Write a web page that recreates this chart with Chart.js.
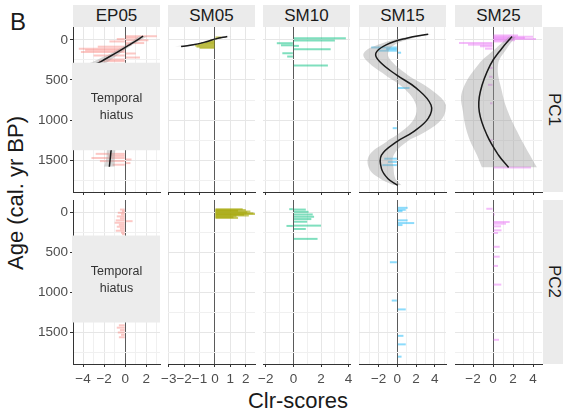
<!DOCTYPE html>
<html>
<head>
<meta charset="utf-8">
<script src="https://cdn.jsdelivr.net/npm/chart.js@4/dist/chart.umd.min.js"></script>
<style>
  body { margin: 0; width: 563px; height: 414px; overflow: hidden; position: relative; background: #fff;
         font-family: "Liberation Sans", Arial, sans-serif; }
  canvas { position: absolute; }
  .strip { position: absolute; background: #ebebeb; color: #1a1a1a; font-size: 17px; text-align: center; }
  .rstrip { position: absolute; background: #ebebeb; color: #1a1a1a; font-size: 17px;
            display: flex; align-items: center; justify-content: center; }
  .rstrip span { writing-mode: vertical-rl; }
  #tag { position: absolute; left: 10px; top: 8px; font-size: 24px; color: #1a1a1a; }
  #ytitle { position: absolute; left: 16px; top: 193px; font-size: 22px; color: #1a1a1a; white-space: nowrap;
            transform: translate(-50%, -50%) rotate(-90deg); }
  #xtitle { position: absolute; left: 298px; top: 401px; font-size: 22px; color: #1a1a1a; white-space: nowrap;
            transform: translate(-50%, -50%); }
</style>
</head>
<body>
<div id="tag">B</div>
<div id="ytitle">Age (cal. yr BP)</div>
<div id="xtitle">Clr-scores</div>

<script>
// facets
const sites = ['EP05', 'SM05', 'SM10', 'SM15', 'SM25'];
const components = ['PC1', 'PC2'];

// axis breaks
const ageTicks = [0, 500, 1000, 1500];
const ageGrid = [0, 250, 500, 750, 1000, 1250, 1500, 1750];
const clrTicks = [[-4, -2, 0, 2], [-3, -2, -1, 0, 1, 2], [-2, 0, 2, 4], [-2, 0, 2, 4], [-2, 0, 2, 4]];
const clrGrid = [[-4, -3, -2, -1, 0, 1, 2, 3], [-3, -2, -1, 0, 1, 2], [-2, -1, 0, 1, 2, 3, 4],
                 [-4, -3, -2, -1, 0, 1, 2, 3, 4, 5], [-3, -2, -1, 0, 1, 2, 3, 4]];

// temporal hiatus in EP05
const hiatusAge = [285, 1375];
const hiatusLabel = ['Temporal', 'hiatus'];

// PC1 clr-scores
const ep05Pc1Age = [-45, -25, -10, 5, 20, 40, 60, 85, 110, 130, 150, 170, 195, 220, 245, 265, 1420, 1445, 1470, 1490, 1510, 1535, 1555];
const ep05Pc1Clr = [3.0, 1.2, -0.8, 2.2, -1.5, 1.8, 0.6, -2.6, -4.4, -3.8, -4.2, 1.0, -3.0, 1.4, -1.8, -2.5, -2.8, -1.6, -3.2, 0.6, -2.4, 0.5, -1.2];
const sm05Pc1Age = [-30, -10, 10, 25, 40, 55, 70, 85, 100];
const sm05Pc1Clr = [0.4, 0.1, -0.3, -0.6, -0.9, -1.1, -1.3, -1.2, -1.0];
const sm10Pc1Age = [-20, 8, 42, 68, 75, 117, 167, 208, 320];
const sm10Pc1Clr = [3.8, 3.0, -1.2, -0.9, 0.4, 2.7, -0.8, -0.45, 2.5];
const sm15Pc1Age = [95, 115, 135, 160, 600, 1100, 1480, 1520, 1560];
const sm15Pc1Clr = [-2.8, -1.2, -2.0, 0.4, 1.3, -0.5, -1.4, -1.0, -1.6];
const sm25Pc1Age = [-55, -40, -25, -10, 5, 20, 40, 60, 80, 110, 350, 460, 560, 790, 1250, 1590];
const sm25Pc1Clr = [2.5, 4.0, 3.2, 4.3, 2.2, 1.6, -3.4, -2.5, -1.3, -0.8, -0.3, -0.4, -0.5, -0.3, -0.4, 3.8];

// PC2 clr-scores
const ep05Pc2Age = [-40, -20, 0, 20, 45, 70, 95, 105, 125, 150, 175, 200, 225, 250, 270, 1410, 1440, 1470, 1500, 1530, 1560];
const ep05Pc2Clr = [-0.5, -0.3, -0.7, -0.4, -0.8, -0.5, -0.9, 0.7, -1.0, -0.6, -0.8, -0.5, -0.9, -0.4, -0.3, -0.6, -0.8, -0.5, -0.7, -0.4, -0.6];
const sm05Pc2Age = [-45, -35, -25, -15, -5, 5, 15, 25, 35, 45, 55, 65];
const sm05Pc2Clr = [1.8, 2.0, 1.5, 2.3, 2.1, 2.5, 2.6, 1.9, 2.2, 1.4, 1.2, 1.5];
const sm10Pc2Age = [-45, -40, -12, 21, 50, 79, 112, 161, 165, 203, 327];
const sm10Pc2Clr = [-0.3, 0.9, 1.1, 1.4, 1.5, 1.3, 1.0, 2.0, -0.5, 0.9, 1.75];
const sm15Pc2Age = [-62, -37, -20, 95, 129, 154, 620, 1100, 1211, 1542, 1649, 1803];
const sm15Pc2Clr = [1.1, 0.9, 0.55, 1.1, 1.8, 0.55, -0.8, -0.6, 0.9, 0.65, 0.9, 0.45];
const sm25Pc2Age = [-50, -8, 21, 116, 137, 170, 220, 253, 426, 550, 666, 900, 1592];
const sm25Pc2Clr = [-0.67, 0.1, 0.17, 1.67, 1.3, 0.8, 0.85, 0.5, 0.67, 0.67, 0.5, 0.83, 0.6];

// smoothers (PC1): fit with confidence band
const ep05FitAge = [-45, 50, 150, 270, 400, 1300, 1390, 1480, 1580];
const ep05Fit = [1.7, 0.55, -0.7, -2.3, -3.9, -1.28, -1.35, -1.42, -1.5];
const ep05FitLo = [1.3, 0.25, -1.1, -3.0, -4.8, -1.7, -1.75, -1.8, -2.0];
const ep05FitHi = [2.1, 0.85, -0.3, -1.6, -3.0, -0.85, -0.95, -1.0, -1.0];
const sm05FitAge = [-42, -12, 20, 50, 84];
const sm05Fit = [0.8, 0.05, -0.5, -1.1, -2.2];
const sm05FitLo = [0.5, -0.1, -0.65, -1.3, -2.6];
const sm05FitHi = [1.1, 0.2, -0.35, -0.9, -1.8];
const sm15FitAge = [-71, -21, 62, 167, 271, 437, 604, 812, 979, 1146, 1271, 1437, 1604, 1729, 1812];
const sm15Fit = [3.3, 1.0, -1.2, -2.3, -1.9, -0.1, 2.05, 3.6, 3.3, 1.7, -0.1, -1.7, -1.7, -1.0, 0.05];
const sm15FitLo = [3.0, 0.4, -2.1, -3.6, -3.2, -1.3, 0.7, 2.0, 1.8, 0.4, -1.2, -3.0, -3.0, -1.8, -0.35];
const sm15FitHi = [3.6, 1.6, -0.3, -1.0, -0.6, 1.1, 3.4, 5.2, 4.8, 3.0, 1.0, -0.4, -0.4, -0.2, 0.45];
const sm25FitAge = [-42, 104, 312, 646, 896, 1187, 1437, 1590];
const sm25Fit = [1.9, 0.9, -0.27, -1.27, -1.37, -0.6, 0.56, 1.56];
const sm25FitLo = [1.6, 0.3, -1.5, -3.1, -3.0, -2.5, -1.6, -1.1];
const sm25FitHi = [2.3, 1.4, 0.5, 0.9, 1.5, 2.6, 3.7, 4.4];

// styling / layout
const siteColors = ['rgba(248,118,109,0.4)', 'rgba(163,165,0,0.6)', 'rgba(0,191,125,0.5)',
                    'rgba(0,176,246,0.45)', 'rgba(231,107,243,0.45)'];
const colLeft = [73, 168, 263, 359, 455];
const panelW = 87;
const rowTop = [27, 200];
const rowH = [165, 164];
const axisH = [4, 32];
const yAxisW = 45;
const PAD = 10;
const clrLimits = [[-4.95, 3.3], [-3.05, 2.6], [-2.2, 4.1], [-4.1, 5.2], [-3.8, 4.9]];
const ageLimits = [-160, 1895];

Chart.defaults.font.family = '"Liberation Sans", Arial, sans-serif';

const panels = [
  { site: 0, pc: 0, age: ep05Pc1Age, clr: ep05Pc1Clr, fit: [ep05FitAge, ep05Fit, ep05FitLo, ep05FitHi], hiatus: true },
  { site: 1, pc: 0, age: sm05Pc1Age, clr: sm05Pc1Clr, fit: [sm05FitAge, sm05Fit, sm05FitLo, sm05FitHi] },
  { site: 2, pc: 0, age: sm10Pc1Age, clr: sm10Pc1Clr },
  { site: 3, pc: 0, age: sm15Pc1Age, clr: sm15Pc1Clr, fit: [sm15FitAge, sm15Fit, sm15FitLo, sm15FitHi] },
  { site: 4, pc: 0, age: sm25Pc1Age, clr: sm25Pc1Clr, fit: [sm25FitAge, sm25Fit, sm25FitLo, sm25FitHi] },
  { site: 0, pc: 1, age: ep05Pc2Age, clr: ep05Pc2Clr, hiatus: true },
  { site: 1, pc: 1, age: sm05Pc2Age, clr: sm05Pc2Clr },
  { site: 2, pc: 1, age: sm10Pc2Age, clr: sm10Pc2Clr },
  { site: 3, pc: 1, age: sm15Pc2Age, clr: sm15Pc2Clr },
  { site: 4, pc: 1, age: sm25Pc2Age, clr: sm25Pc2Clr },
];

// grey box over the gap in the EP05 record
const hiatusPlugin = {
  id: 'hiatus',
  afterDatasetsDraw(chart) {
    const { ctx, chartArea: a, scales: { y } } = chart;
    const y0 = y.getPixelForValue(hiatusAge[0]);
    const y1 = y.getPixelForValue(hiatusAge[1]);
    ctx.save();
    ctx.fillStyle = '#ececec';
    ctx.fillRect(a.left - 1, y0, a.right - a.left + 1, y1 - y0);
    ctx.fillStyle = '#333';
    ctx.font = '12.5px "Liberation Sans", Arial, sans-serif';
    ctx.textAlign = 'center';
    ctx.textBaseline = 'middle';
    const cx = (a.left + a.right) / 2, cy = (y0 + y1) / 2 + 1;
    ctx.fillText(hiatusLabel[0], cx, cy - 8.5);
    ctx.fillText(hiatusLabel[1], cx, cy + 8.5);
    ctx.restore();
  }
};

// strips
sites.forEach((s, c) => {
  const d = document.createElement('div');
  d.className = 'strip';
  d.style.cssText = `left:${colLeft[c]}px;top:5px;width:${panelW}px;height:22px;line-height:22px;`;
  d.textContent = s;
  document.body.appendChild(d);
});
components.forEach((p, r) => {
  const d = document.createElement('div');
  d.className = 'rstrip';
  d.style.cssText = `left:543px;top:${rowTop[r]}px;width:21px;height:${rowH[r]}px;`;
  d.innerHTML = `<span>${p}</span>`;
  document.body.appendChild(d);
});

const minus = v => String(v).replace('-', '\u2212');

panels.forEach(p => {
  const c = p.site, r = p.pc;
  const yw = c === 0 ? yAxisW : 0;
  const cv = document.createElement('canvas');
  cv.width = panelW + 2 * PAD + yw;
  cv.height = rowH[r] + axisH[r];
  cv.style.left = (colLeft[c] - PAD - yw) + 'px';
  cv.style.top = rowTop[r] + 'px';
  document.body.appendChild(cv);

  const datasets = [];
  if (p.fit) {
    const [fa, fv, lo, hi] = p.fit;
    datasets.push({
      type: 'line', indexAxis: 'y',
      data: fa.map((a, i) => ({ y: a, x: fv[i] })),
      borderColor: '#1a1a1a', borderWidth: 1.5, pointRadius: 0, tension: 0.4, fill: false
    });
    datasets.push({
      type: 'line', indexAxis: 'y',
      data: fa.map((a, i) => ({ y: a, x: lo[i] })),
      borderWidth: 0, pointRadius: 0, tension: 0.4, fill: false
    });
    datasets.push({
      type: 'line', indexAxis: 'y',
      data: fa.map((a, i) => ({ y: a, x: hi[i] })),
      borderWidth: 0, pointRadius: 0, tension: 0.4, fill: '-1',
      backgroundColor: 'rgba(153,153,153,0.4)'
    });
  }
  datasets.push({
    type: 'bar', indexAxis: 'y',
    data: p.age.map((a, i) => ({ y: a, x: [0, p.clr[i]] })),
    backgroundColor: siteColors[c], borderWidth: 0, barThickness: 2, inflateAmount: 0
  });

  new Chart(cv, {
    type: 'bar',
    data: { datasets },
    plugins: p.hiatus ? [hiatusPlugin] : [],
    options: {
      responsive: false, animation: false, devicePixelRatio: 1, indexAxis: 'y',
      layout: { padding: { left: PAD, right: PAD, top: 0, bottom: 0 } },
      plugins: { legend: { display: false }, tooltip: { enabled: false } },
      scales: {
        x: {
          type: 'linear', min: clrLimits[c][0], max: clrLimits[c][1], offset: false,
          afterBuildTicks: s => { s.ticks = clrGrid[c].map(v => ({ value: v })); },
          afterFit: s => { s.height = axisH[r]; s.paddingLeft = 0; s.paddingRight = 0; },
          grid: {
            color: g => g.tick && g.tick.value === 0 ? '#5a5a5a' : (clrTicks[c].includes(g.tick && g.tick.value) ? '#e6e6e6' : '#f0f0f0'),
            lineWidth: 1, drawTicks: true, tickLength: 3, offset: false,
            tickColor: g => clrTicks[c].includes(g.tick && g.tick.value) ? '#333' : 'rgba(0,0,0,0)'
          },
          border: { display: true, color: '#333', width: 1 },
          ticks: {
            display: r === 1, autoSkip: false, maxRotation: 0, padding: 4, color: '#4d4d4d',
            font: { size: 13.5 },
            callback: v => clrTicks[c].includes(v) ? minus(v) : ''
          }
        },
        y: {
          type: 'linear', reverse: true, min: ageLimits[0], max: ageLimits[1], offset: false,
          afterBuildTicks: s => { s.ticks = ageGrid.map(v => ({ value: v })); },
          afterFit: s => { s.width = yw; s.paddingTop = 0; s.paddingBottom = 0; },
          grid: {
            color: g => ageTicks.includes(g.tick && g.tick.value) ? '#e6e6e6' : '#f0f0f0',
            lineWidth: 1, drawTicks: c === 0, tickLength: 3, offset: false,
            tickColor: g => ageTicks.includes(g.tick && g.tick.value) ? '#333' : 'rgba(0,0,0,0)'
          },
          border: { display: c === 0, color: '#333', width: 1 },
          ticks: {
            display: c === 0, autoSkip: false, padding: 2, color: '#4d4d4d',
            font: { size: 13.5 },
            callback: v => ageTicks.includes(v) ? String(v) : ''
          }
        }
      }
    }
  });
});
</script>
</body>
</html>
